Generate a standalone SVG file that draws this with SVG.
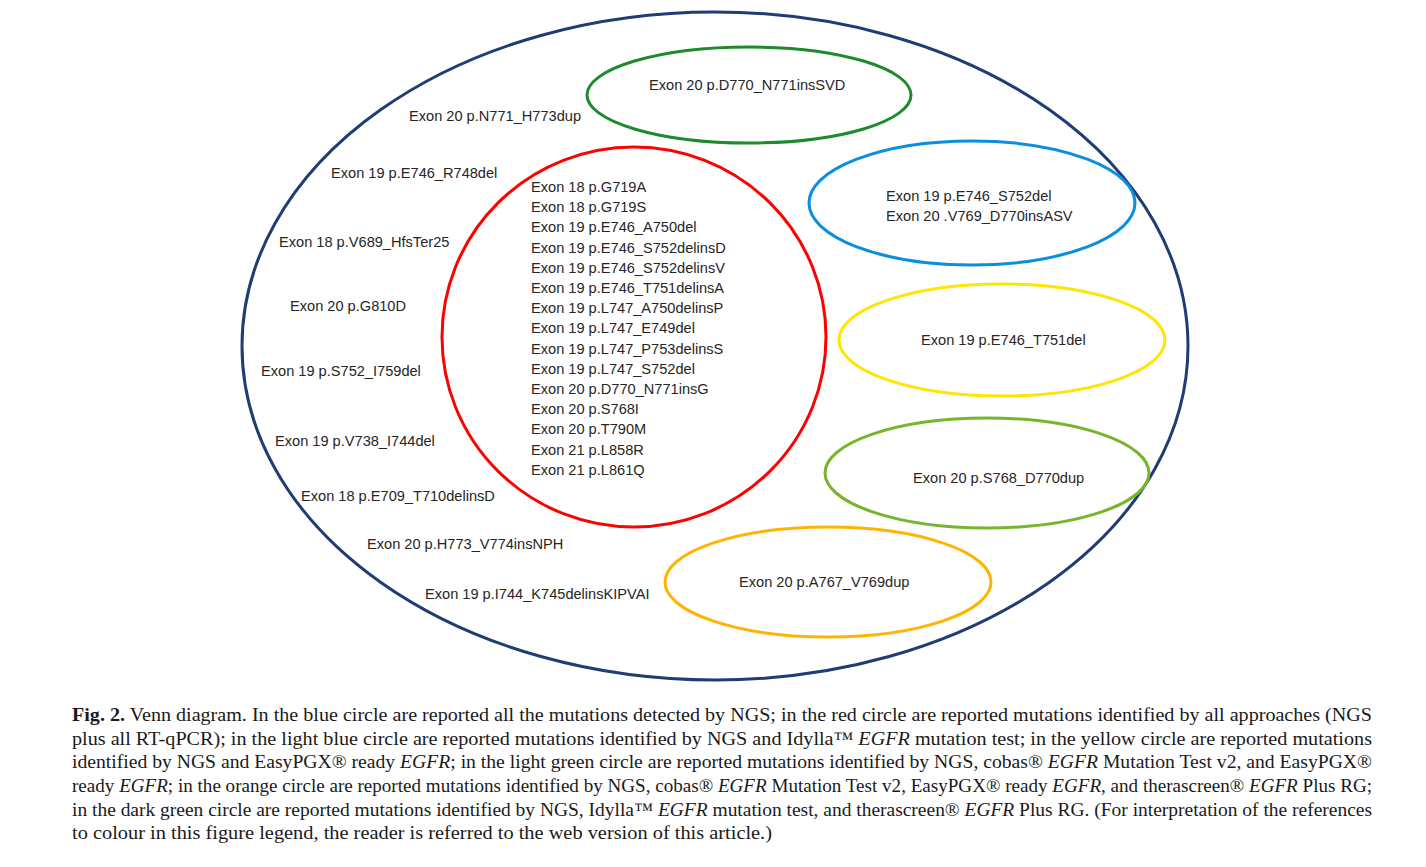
<svg xmlns="http://www.w3.org/2000/svg" width="1426" height="867" viewBox="0 0 1426 867">
<style>
.set{fill:none;stroke-width:3}
.lbl{font-family:"Liberation Sans",Arial,sans-serif;font-size:14.6px;fill:#262626}
.cap{font-family:"Liberation Serif","Times New Roman",serif;font-size:19px;fill:#1a1a1a}
.it{font-style:italic}
</style>
<rect width="1426" height="867" fill="#fff"/>
<g id="ngs">
<ellipse cx="715" cy="346" rx="473" ry="334" class="set" stroke="#1f3c74" stroke-width="2.5"/>
<text class="lbl" x="409" y="121">Exon 20 p.N771_H773dup</text>
<text class="lbl" x="331" y="178">Exon 19 p.E746_R748del</text>
<text class="lbl" x="279" y="247">Exon 18 p.V689_HfsTer25</text>
<text class="lbl" x="290" y="311">Exon 20 p.G810D</text>
<text class="lbl" x="261" y="376">Exon 19 p.S752_I759del</text>
<text class="lbl" x="275" y="446">Exon 19 p.V738_I744del</text>
<text class="lbl" x="301" y="501">Exon 18 p.E709_T710delinsD</text>
<text class="lbl" x="367" y="549">Exon 20 p.H773_V774insNPH</text>
<text class="lbl" x="425" y="599">Exon 19 p.I744_K745delinsKIPVAI</text>
</g>
<g id="all">
<ellipse cx="634" cy="337" rx="192" ry="190" class="set" stroke="#ff0000"/>
<text class="lbl" x="531" y="192">Exon 18 p.G719A</text>
<text class="lbl" x="531" y="212.2">Exon 18 p.G719S</text>
<text class="lbl" x="531" y="232.4">Exon 19 p.E746_A750del</text>
<text class="lbl" x="531" y="252.6">Exon 19 p.E746_S752delinsD</text>
<text class="lbl" x="531" y="272.8">Exon 19 p.E746_S752delinsV</text>
<text class="lbl" x="531" y="293">Exon 19 p.E746_T751delinsA</text>
<text class="lbl" x="531" y="313.2">Exon 19 p.L747_A750delinsP</text>
<text class="lbl" x="531" y="333.4">Exon 19 p.L747_E749del</text>
<text class="lbl" x="531" y="353.6">Exon 19 p.L747_P753delinsS</text>
<text class="lbl" x="531" y="373.8">Exon 19 p.L747_S752del</text>
<text class="lbl" x="531" y="394">Exon 20 p.D770_N771insG</text>
<text class="lbl" x="531" y="414.2">Exon 20 p.S768I</text>
<text class="lbl" x="531" y="434.4">Exon 20 p.T790M</text>
<text class="lbl" x="531" y="454.6">Exon 21 p.L858R</text>
<text class="lbl" x="531" y="474.8">Exon 21 p.L861Q</text>
</g>
<g id="darkgreen">
<ellipse cx="749" cy="95" rx="162" ry="48" class="set" stroke="#1e8a2c"/>
<text class="lbl" x="649" y="90">Exon 20 p.D770_N771insSVD</text>
</g>
<g id="lightblue">
<ellipse cx="972" cy="203" rx="163" ry="62" class="set" stroke="#0a8fe0"/>
<text class="lbl" x="886" y="201">Exon 19 p.E746_S752del</text>
<text class="lbl" x="886" y="221">Exon 20 .V769_D770insASV</text>
</g>
<g id="yellow">
<ellipse cx="1002" cy="340" rx="163" ry="56" class="set" stroke="#ffe500"/>
<text class="lbl" x="921" y="345">Exon 19 p.E746_T751del</text>
</g>
<g id="lightgreen">
<ellipse cx="987" cy="473" rx="162" ry="55" class="set" stroke="#77b52c"/>
<text class="lbl" x="913" y="483">Exon 20 p.S768_D770dup</text>
</g>
<g id="orange">
<ellipse cx="828" cy="582" rx="163" ry="55" class="set" stroke="#ffb400"/>
<text class="lbl" x="739" y="587">Exon 20 p.A767_V769dup</text>
</g>
<g id="caption">
<text class="cap" x="72" y="721" textLength="1300" lengthAdjust="spacingAndGlyphs"><tspan font-weight="bold">Fig. 2.</tspan>  Venn diagram. In the blue circle are reported all the mutations detected by NGS; in the red circle are reported mutations identified by all approaches (NGS</text>
<text class="cap" x="72" y="744.5" textLength="1300" lengthAdjust="spacingAndGlyphs">plus all RT-qPCR); in the light blue circle are reported mutations identified by NGS and Idylla™ <tspan class="it">EGFR</tspan> mutation test; in the yellow circle are reported mutations</text>
<text class="cap" x="72" y="768" textLength="1300" lengthAdjust="spacingAndGlyphs">identified by NGS and EasyPGX® ready <tspan class="it">EGFR</tspan>; in the light green circle are reported mutations identified by NGS, cobas® <tspan class="it">EGFR</tspan> Mutation Test v2, and EasyPGX®</text>
<text class="cap" x="72" y="792" textLength="1300" lengthAdjust="spacingAndGlyphs">ready <tspan class="it">EGFR</tspan>; in the orange circle are reported mutations identified by NGS, cobas® <tspan class="it">EGFR</tspan> Mutation Test v2, EasyPGX® ready <tspan class="it">EGFR</tspan>, and therascreen® <tspan class="it">EGFR</tspan> Plus RG;</text>
<text class="cap" x="72" y="815.5" textLength="1300" lengthAdjust="spacingAndGlyphs">in the dark green circle are reported mutations identified by NGS, Idylla™ <tspan class="it">EGFR</tspan> mutation test, and therascreen® <tspan class="it">EGFR</tspan> Plus RG. (For interpretation of the references</text>
<text class="cap" x="72" y="839" textLength="700" lengthAdjust="spacingAndGlyphs">to colour in this figure legend, the reader is referred to the web version of this article.)</text>
</g>
</svg>
